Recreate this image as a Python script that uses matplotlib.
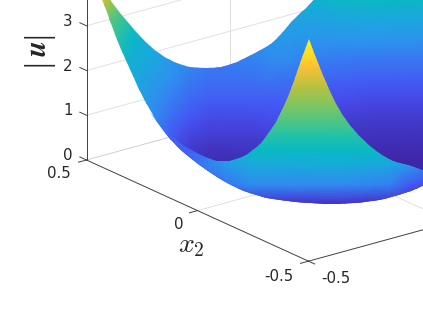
import matplotlib
matplotlib.use("Agg")
import matplotlib.pyplot as plt
import numpy as np
from matplotlib.colors import LinearSegmentedColormap
from matplotlib.patches import PathPatch
from matplotlib.path import Path
from mpl_toolkits.mplot3d import proj3d

# box corners and z ticks (pixels, y down)
corner_back = (86.5, 160.0)
corner_front = (309.0, 262.0)
z3_y = 26.0

x1_ticks = [-0.5, 0, 0.5]
x2_ticks = [-0.5, 0, 0.5]
z_ticks = [0, 1, 2, 3]

# outlines of the surface
rim_top = [(95, -20), (110, 0), (123, 17), (140, 37), (160, 55), (180, 65), (200, 68), (212, 68), (229, 65), (245, 58), (265, 48), (279, 37), (295, 17), (314, 0), (340, -30), (445, -30)]
rim_low = [(445, 175), (423, 186), (399, 195), (369, 202), (339, 204), (312, 203), (279, 200), (255, 195), (232, 186), (212, 174), (190, 158), (173, 143), (157, 122), (140, 93), (127, 63), (113, 30), (102, 0), (95, -20)]
fold_left = [(150, 112), (170, 135), (190, 150), (212, 160), (222, 161), (235, 160), (252, 152), (269, 133), (282, 110), (292, 87), (302, 57), (309, 39)]
fold_right = [(309, 39), (319, 67), (332, 97), (345, 120), (362, 140), (387, 159), (405, 164), (423, 170), (445, 178)]

# colour height over the back part, fraction of the colour range
back_x = [90, 110, 130, 150, 170, 190, 210, 230, 250, 270, 290, 310, 340, 380, 445]
back_y = [-30, 0, 20, 40, 60, 80, 100, 120, 140, 160, 210]
back_c = [
    [.90, .85, .70, .60, .50, .45, .40, .40, .45, .50, .55, .60, .62, .62, .60],
    [.85, .75, .60, .50, .40, .35, .32, .32, .35, .40, .42, .42, .47, .48, .46],
    [.80, .65, .55, .45, .36, .30, .27, .27, .30, .33, .34, .34, .36, .37, .36],
    [.70, .60, .47, .38, .32, .27, .23, .23, .26, .29, .29, .28, .28, .28, .27],
    [.65, .55, .42, .37, .30, .24, .21, .21, .22, .24, .24, .22, .21, .20, .20],
    [.60, .50, .40, .32, .26, .21, .19, .19, .19, .20, .19, .17, .16, .15, .15],
    [.55, .45, .36, .28, .22, .17, .15, .15, .15, .15, .15, .12, .11, .10, .10],
    [.50, .40, .33, .25, .18, .13, .10, .10, .10, .11, .11, .08, .07, .06, .06],
    [.45, .35, .30, .22, .14, .08, .06, .06, .06, .07, .07, .05, .03, .03, .03],
    [.40, .30, .25, .18, .10, .04, .02, .02, .03, .04, .04, .03, .01, .00, .00],
    [.30, .22, .16, .12, .08, .04, .02, .02, .03, .03, .03, .03, .01, .00, .00],
]

# colour height over the front part below the fold
front_x = [140, 170, 200, 225, 250, 345, 390, 410, 445]
front_y = [35, 57, 67, 87, 110, 133, 150, 165, 185, 200, 206]
front_c = [
    [.50, .40, .40, .50, 1.0, 1.0, 1.0, 1.0, 1.0],
    [.45, .36, .35, .50, .92, .92, .92, .92, .92],
    [.43, .33, .32, .50, .87, .87, .87, .87, .87],
    [.38, .30, .30, .50, .77, .77, .77, .77, .77],
    [.27, .26, .28, .45, .68, .68, .68, .68, .68],
    [.22, .16, .24, .40, .57, .57, .57, .57, .57],
    [.20, .14, .17, .36, .48, .48, .48, .48, .48],
    [.18, .14, .20, .30, .38, .40, .36, .28, .20],
    [.15, .10, .12, .20, .24, .24, .22, .14, .08],
    [.08, .06, .05, .08, .08, .08, .07, .05, .03],
    [.04, .03, .03, .03, .02, .02, .02, .02, .02],
]

parula = LinearSegmentedColormap.from_list("parula", ["#3e26a8", "#4751f5", "#2f8ff0", "#1aa9dd", "#06bcbc", "#45c88d", "#a8c143", "#fcc135", "#f9fb14"])

plt.rcParams["font.family"] = "DejaVu Sans"
txt_col = "#262626"
axis_col = "#404040"
grid_col = "#e0e0e0"

fig = plt.figure(figsize=(4.23, 3.17), dpi=100)
ax = fig.add_axes([0, 0, 1, 1], projection="3d", proj_type="ortho")
ax.set_axis_off()
ax.view_init(elev=20.7, azim=-127.8)
ax.set_xlim(-0.5, 0.5)
ax.set_ylim(-0.5, 0.5)
ax.set_zlim(0, 8)


def to_px(x1, x2, z):
    xp, yp, _ = proj3d.proj_transform(x1, x2, z, ax.get_proj())
    ax.apply_aspect()
    return ax.transData.transform((xp, yp))


# fit the 3d box onto the corners
side = 800.0
left, bottom = -100.0, -100.0
k = 1.0
target_len = np.hypot(corner_front[0] - corner_back[0], corner_front[1] - corner_back[1])
for i in range(8):
    ax.set_box_aspect((1, 1, k))
    ax.set_position([left / 423, bottom / 317, side / 423, side / 317])
    p0 = to_px(-0.5, 0.5, 0)
    p1 = to_px(-0.5, -0.5, 0)
    p2 = to_px(-0.5, 0.5, 3)
    side *= target_len / np.hypot(*(p1 - p0))
    k *= (corner_back[1] - z3_y) / (p2[1] - p0[1])
    ax.set_box_aspect((1, 1, k))
    ax.set_position([left / 423, bottom / 317, side / 423, side / 317])
    p0 = to_px(-0.5, 0.5, 0)
    left += corner_back[0] - p0[0]
    bottom += (317 - corner_back[1]) - p0[1]
ax.set_position([left / 423, bottom / 317, side / 423, side / 317])

# grid
for z in z_ticks[1:]:
    ax.plot([-0.5, 0.5], [0.5, 0.5], [z, z], color=grid_col, lw=0.7)
    ax.plot([0.5, 0.5], [-0.5, 0.5], [z, z], color=grid_col, lw=0.7)
ax.plot([-0.5, 0.5], [0.5, 0.5], [0, 0], color="#cfcfcf", lw=0.7)
ax.plot([0, 0], [0.5, 0.5], [0, 8], color=grid_col, lw=0.7)
ax.plot([-0.5, 0.5], [0, 0], [0, 0], color=grid_col, lw=0.7)
ax.plot([0, 0], [-0.5, 0.5], [0, 0], color=grid_col, lw=0.7)
ax.plot([0.5, 0.5], [-0.5, 0.5], [0, 0], color=grid_col, lw=0.7)

# box edges and ticks
ax.plot([-0.5, -0.5], [0.5, 0.5], [0, 8], color=axis_col, lw=0.7)
ax.plot([-0.5, -0.5], [0.5, -0.5], [0, 0], color=axis_col, lw=0.7)
ax.plot([-0.5, 0.5], [-0.5, -0.5], [0, 0], color=axis_col, lw=0.7)
for z in z_ticks:
    ax.plot([-0.5, -0.5], [0.5, 0.53], [z, z], color=axis_col, lw=0.7)
for t in x2_ticks:
    ax.plot([-0.5, -0.528], [t, t], [0, 0], color=axis_col, lw=0.7)
for t in x1_ticks:
    ax.plot([t, t], [-0.5, -0.528], [0, 0], color=axis_col, lw=0.7)

# second axes on top, in picture units, for the smooth surface colours
top = fig.add_axes([0, 0, 1, 1])
top.set_xlim(0, 423)
top.set_ylim(317, 0)
top.axis("off")
top.patch.set_alpha(0)


def outline(*runs):
    # closed path, rounded inside each run, sharp where runs meet
    verts = [runs[0][0]]
    codes = [Path.MOVETO]
    for n, run in enumerate(runs):
        if n > 0:
            verts.append(run[0])
            codes.append(Path.LINETO)
        for a, b in zip(run[1:-1], run[2:]):
            mid = ((a[0] + b[0]) / 2, (a[1] + b[1]) / 2) if b is not run[-1] else b
            verts += [a, mid]
            codes += [Path.CURVE3, Path.CURVE3]
    verts.append(runs[0][0])
    codes.append(Path.CLOSEPOLY)
    return Path(verts, codes)


def sheet(field_x, field_y, field_c, path):
    mesh = top.pcolormesh(field_x, field_y, np.array(field_c), shading="gouraud", cmap=parula, vmin=0, vmax=1)
    mesh.set_clip_path(PathPatch(path, transform=top.transData))


sheet(back_x, back_y, back_c, outline(rim_top, rim_low))
sheet(front_x, front_y, front_c, outline(fold_left, fold_right, rim_low[:13]))


def tick_label(label, point, dx, dy):
    p = to_px(*point)
    top.annotate(label, xy=(p[0] + dx, 317 - p[1] + dy), xycoords=top.transData, ha="center", va="center",
                 fontsize=10.8, color=txt_col, annotation_clip=False)


for z in z_ticks:
    tick_label(str(z), (-0.5, 0.5, z), -18.5, -4.5)
tick_label("0.5", (-0.5, 0.5, 0), -27.5, 14)
tick_label("0", (-0.5, 0, 0), -19, 14)
tick_label("-0.5", (-0.5, -0.5, 0), -30, 15)
tick_label("-0.5", (-0.5, -0.5, 0), 27, 17.5)

top.text(191, 245, r"$x_2$", fontsize=20, color=txt_col, ha="center", va="center", math_fontfamily="cm")
top.text(38, 49, r"$\boldsymbol{u}$", fontsize=21, color=txt_col, rotation=90, ha="center", va="center", math_fontfamily="stix")
top.text(38, 35, "|", fontsize=24, color=txt_col, rotation=90, ha="center", va="center", family="Liberation Serif")
top.text(38, 63, "|", fontsize=24, color=txt_col, rotation=90, ha="center", va="center", family="Liberation Serif")

fig.savefig("out.png", dpi=100)
